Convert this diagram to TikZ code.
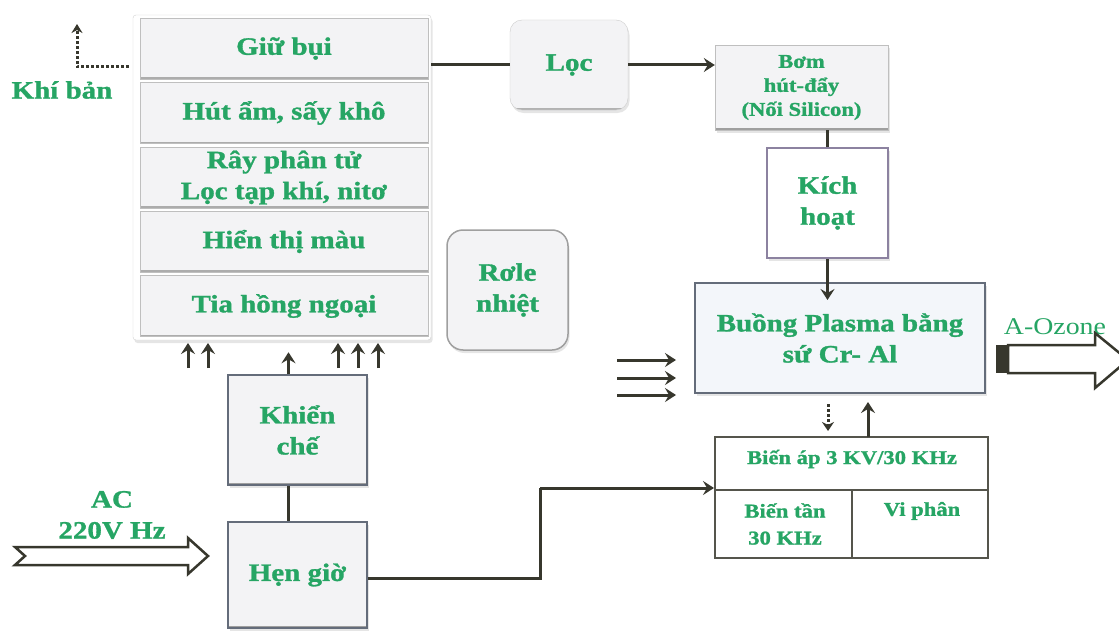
\documentclass[tikz,border=0pt]{standalone}
\usepackage{fontspec}
\setmainfont{Liberation Serif}[FakeStretch=1.16, BoldFeatures={FakeBold=1.2}]
\usetikzlibrary{calc,shadows,arrows.meta}
\definecolor{tgreen}{RGB}{38,165,100}
\definecolor{lc}{RGB}{55,55,45}
\definecolor{boxf}{RGB}{243,243,245}
\definecolor{kichb}{RGB}{140,130,160}
\definecolor{blueb}{RGB}{100,108,122}
\definecolor{buongf}{RGB}{243,246,250}
\newcommand\bigtxt{\fontsize{25}{31}\selectfont\bfseries}
\newcommand\midtxt{\fontsize{19.5}{24}\selectfont\bfseries}
\newcommand\tbltxt{\fontsize{19.5}{27}\selectfont\bfseries}
\tikzset{
  bottomedge/.style={path picture={\draw[line width=3.5pt, draw=#1] (path picture bounding box.south west) -- (path picture bounding box.south east);}},
  shad/.style={drop shadow={opacity=0.2, shadow xshift=1.5pt, shadow yshift=-3pt}},
  rowbox/.style={draw=gray!50, fill=boxf, minimum width=288, minimum height=61, font=\bigtxt, text=tgreen, align=center, inner sep=0pt, bottomedge=gray!65},
  gbox/.style={draw=blueb, line width=1.5pt, fill=boxf, font=\bigtxt, text=tgreen, align=center, inner sep=0pt, shad, bottomedge=gray!75},
  rbox/.style={draw=gray!40, fill=boxf, rounded corners=12pt, font=\bigtxt, text=tgreen, align=center, inner sep=0pt, shad},
  conn/.style={draw=lc, line width=3pt},
  arr/.style={draw=lc, line width=3pt, -{Stealth[length=11pt,width=14pt,inset=4pt]}},
  dots/.style={draw=lc, line width=3pt, dash pattern=on 2.5pt off 2.5pt},
  lbl/.style={font=\bigtxt, text=tgreen, align=center, inner sep=0pt},
}
\begin{document}
\begin{tikzpicture}[x=1pt,y=-1pt]
\useasboundingbox (0,0) rectangle (1119,634);
\fill[white] (0,0) rectangle (1119,634);

% left stack
\node[draw=gray!35, fill=white, minimum width=298, minimum height=325, inner sep=0pt, rounded corners=3pt, shad] (stack) at (282,177.5) {};
\node[rowbox] (r1) at (284,48.5) {Giữ bụi};
\node[rowbox] (r2) at (284,113) {Hút ẩm, sấy khô};
\node[rowbox] (r3) at (284,177.5) {Rây phân tử\\Lọc tạp khí, nitơ};
\node[rowbox] (r4) at (284,241.5) {Hiển thị màu};
\node[rowbox] (r5) at (284,306) {Tia hồng ngoại};

% Khi ban
\node[lbl] (khiban) at (62,90) {Khí bản};
\coordinate (kbcorner) at (77,67);
\coordinate (kbtip) at (77,24);
\draw[dots, -{Stealth[length=9pt,width=11pt]}] ([xshift=-4pt]stack.west |- kbcorner) -- (kbcorner) -- (kbtip);

% arrows under stack
\foreach \xx in {188,208,338,358,378}
  \draw[arr] (\xx,368) -- (\xx,343);

% Role nhiet
\node[rbox, draw=gray!75, line width=1.5pt, minimum width=121, minimum height=120, rounded corners=16pt] (role) at (507.5,290) {Rơle\\nhiệt};

% Khien che, Hen gio
\node[gbox, minimum width=139, minimum height=110] (khien) at (297.5,430) {Khiển\\chế};
\node[gbox, minimum width=139, minimum height=106] (hen) at (297.5,575) {Hẹn giờ};
\draw[arr] ([xshift=-9pt]khien.north) -- ++(0,-22);
\draw[conn] ([xshift=-9pt]khien.south) -- ([xshift=-9pt]hen.north);

% AC input
\node[lbl] (ac) at (112,515) {AC\\220V Hz};
\draw[lc, line width=2.5pt, fill=white, line join=miter] (15,547) -- (188,547) -- (188,538) -- (208,556) -- (188,574) -- (188,565) -- (15,565) -- (25,556) -- cycle;

% Loc, Bom
\node[rbox, minimum width=118, minimum height=90, bottomedge=gray!60] (loc) at (569,65) {Lọc};
\node[draw=gray!50, fill=boxf, minimum width=173, minimum height=85, font=\midtxt, text=tgreen, align=center, inner sep=0pt, shad, bottomedge=gray!75] (bom) at (801.5,87.5) {Bơm\\hút-đẩy\\(Nối Silicon)};
\draw[conn] (stack.east |- loc.west) -- (loc.west);
\draw[arr] (loc.east) -- (loc.east -| bom.west);

% Kich hoat
\node[draw=kichb, line width=2pt, fill=white!95!magenta!3, minimum width=121, minimum height=110, font=\bigtxt, text=tgreen, align=center, inner sep=0pt, shad] (kich) at (827.5,203) {Kích\\hoạt};
\draw[conn] (kich.north) -- (kich.north |- bom.south);

% Buong plasma
\node[draw=blueb, line width=2pt, fill=buongf, minimum width=290, minimum height=110, font=\bigtxt, text=tgreen, align=center, inner sep=0pt, shad] (buong) at (840,338) {Buồng Plasma bằng\\sứ Cr- Al};
\draw[arr] (kich.south) -- ($(kich.south |- buong.north)+(0,18)$);
\foreach \dy in {22,40,57}
  \draw[arr] ($(buong.west)+(-77,\dy)$) -- ++(59,0);

% A-Ozone
\node[font=\fontsize{24}{28}\selectfont, text=tgreen, inner sep=0pt] (ozone) at (1055,327) {A-Ozone};
\fill[lc] (996,345) rectangle (1008,373);
\draw[lc, line width=2.5pt, fill=white, line join=miter] (1008,345) -- (1095,345) -- (1095,333) -- (1128,360) -- (1095,388) -- (1095,373) -- (1008,373) -- cycle;

% Bien ap table
\node[draw=lc!85, line width=2pt, fill=white, minimum width=273, minimum height=121, inner sep=0pt] (bienap) at (851.5,497.5) {};
\coordinate (divy) at (0,490);
\coordinate (divx) at (852,0);
\draw[draw=lc!85, line width=2pt] (bienap.west |- divy) -- (bienap.east |- divy);
\draw[draw=lc!85, line width=2pt] (divx |- divy) -- (divx |- bienap.south);
\node[font=\tbltxt, text=tgreen, inner sep=0pt] (t1) at (852,459) {Biến áp 3 KV/30 KHz};
\node[font=\tbltxt, text=tgreen, align=center, inner sep=0pt] (t2) at (785,524) {Biến tần\\30 KHz};
\node[font=\tbltxt, text=tgreen, inner sep=0pt] (t3) at (922,511) {Vi phân};

% arrows between buong and table
\coordinate (dtop) at (828,404);
\coordinate (dtip) at (828,431);
\draw[dots, -{Stealth[length=9pt,width=12pt]}] (dtop) -- (dtip);
\draw[arr] (868,437) -- (868,402);

% Hen gio to table
\coordinate (h1) at (540,578);
\coordinate (h2) at (540,488);
\draw[conn] (hen.east |- h1) -- (h1) -- (h2);
\draw[arr] (h2) -- (h2 -| bienap.west);
\end{tikzpicture}
\end{document}
